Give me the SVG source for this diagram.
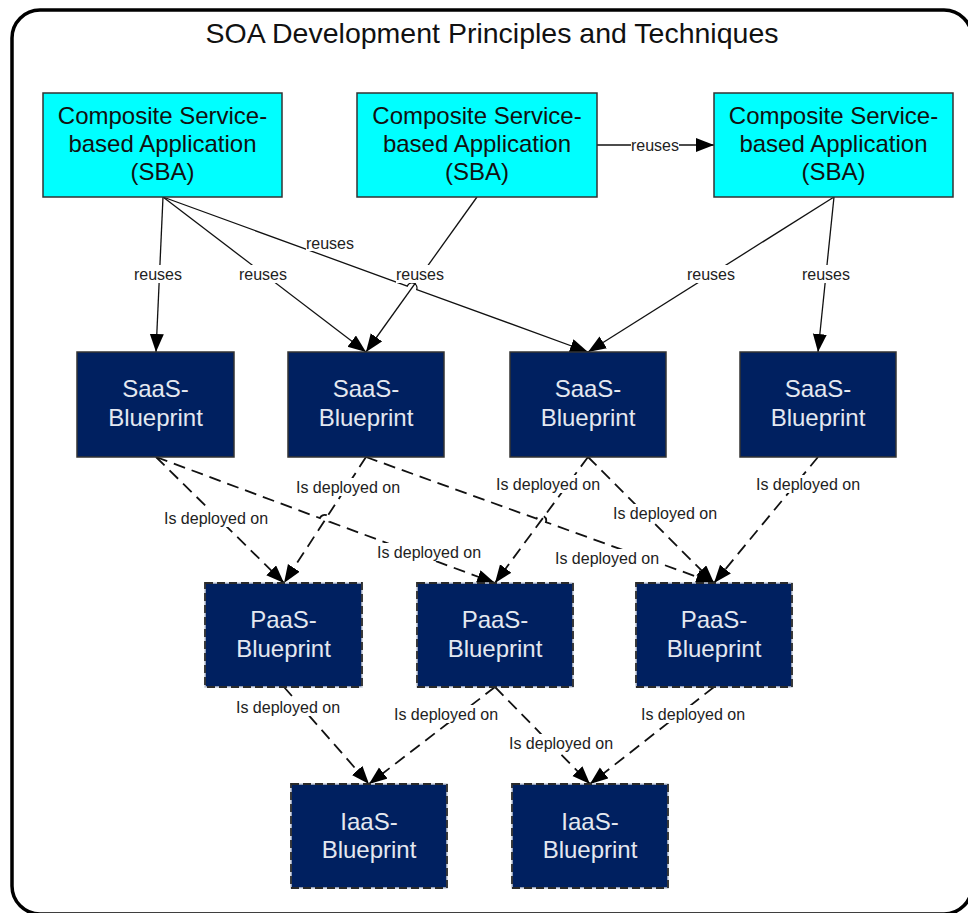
<svg xmlns="http://www.w3.org/2000/svg" width="968" height="913" viewBox="0 0 968 913">
  <style>
    .title { font-family: "Liberation Sans", Arial, sans-serif; font-size: 28.5px; fill: #111; text-anchor: middle; }
    .sba rect { fill: #00ffff; stroke: #333; stroke-width: 1.5; }
    .sba text { font-family: "Liberation Sans", Arial, sans-serif; font-size: 24px; fill: #111; text-anchor: middle; }
    .saas rect { fill: #002060; stroke: #333; stroke-width: 1.5; }
    .blue text { font-family: "Liberation Sans", Arial, sans-serif; font-size: 24px; fill: #e4e8f0; text-anchor: middle; }
    .dash rect.base { fill: #002060; stroke: #c9ceda; stroke-width: 1.5; }
    .dash rect.edge { fill: none; stroke: #2a2a2a; stroke-width: 1.8; stroke-dasharray: 8 4; }
    .reuse { fill: none; stroke: #111; stroke-width: 1.3; marker-end: url(#arrow); }
    .deploy { fill: none; stroke: #111; stroke-width: 1.8; stroke-dasharray: 12 7; marker-end: url(#arrow); }
    .lbl rect { fill: #fff; }
    .lbl text { font-family: "Liberation Sans", Arial, sans-serif; font-size: 16px; fill: #222; text-anchor: middle; }
  </style>
  <defs>
    <marker id="arrow" markerUnits="userSpaceOnUse" markerWidth="19" markerHeight="15" refX="18" refY="7" orient="auto">
      <path d="M0,0 L18,7 L0,14 Z" fill="#000"/>
    </marker>
  </defs>

  <rect x="0" y="0" width="968" height="913" fill="#fff"/>
  <!-- outer frame -->
  <rect x="12" y="10" width="960" height="904" rx="28" ry="28" fill="#fff" stroke="#000" stroke-width="3.5"/>
  <text class="title" x="492" y="43">SOA Development Principles and Techniques</text>

  <!-- connectors -->
  <g id="connectors">
    <!-- reuses -->
    <path class="reuse" d="M163,197 L156,352"/>
    <path class="reuse" d="M163,197 L366,352"/>
    <path class="reuse" d="M163,197 L407.3,286.1 A5,5 0 0 1 416.7,289.5 L588,352"/>
    <path class="reuse" d="M477,197 L366,352"/>
    <path class="reuse" d="M597,145 L714,145"/>
    <path class="reuse" d="M834,197 L588,352"/>
    <path class="reuse" d="M834,197 L818,352"/>
    <!-- is deployed on -->
    <path class="deploy" d="M156,457 L284,583"/>
    <path class="deploy" d="M156,457 L319.9,518.1 A5,5 0 0 1 329.3,521.7 L495,583"/>
    <path class="deploy" d="M366,457 L284,583"/>
    <path class="deploy" d="M366,457 L536.5,518.7 A5,5 0 0 1 545.9,522.1 L714,583"/>
    <path class="deploy" d="M588,457 L495,583"/>
    <path class="deploy" d="M588,457 L714,583"/>
    <path class="deploy" d="M818,457 L714,583"/>
    <path class="deploy" d="M284,687 L369,784"/>
    <path class="deploy" d="M495,687 L369,784"/>
    <path class="deploy" d="M495,687 L590,784"/>
    <path class="deploy" d="M714,687 L590,784"/>

    <!-- connector labels -->
    <g class="lbl">
      <rect x="134" y="265" width="48" height="18"/><text x="158" y="279.5">reuses</text>
      <rect x="239" y="265" width="48" height="18"/><text x="263" y="279.5">reuses</text>
      <rect x="306" y="234" width="48" height="17"/><text x="330" y="248.5">reuses</text>
      <rect x="396" y="265" width="48" height="18"/><text x="420" y="279.5">reuses</text>
      <rect x="631" y="137" width="48" height="16"/><text x="655" y="150.5">reuses</text>
      <rect x="687" y="265" width="48" height="18"/><text x="711" y="279.5">reuses</text>
      <rect x="802" y="265" width="48" height="18"/><text x="826" y="279.5">reuses</text>

      <rect x="163" y="509" width="106" height="18"/><text x="216" y="523.5">Is deployed on</text>
      <rect x="376" y="543" width="106" height="18"/><text x="429" y="557.5">Is deployed on</text>
      <rect x="295" y="478" width="106" height="18"/><text x="348" y="492.5">Is deployed on</text>
      <rect x="554" y="549" width="106" height="18"/><text x="607" y="563.5">Is deployed on</text>
      <rect x="495" y="475" width="106" height="18"/><text x="548" y="489.5">Is deployed on</text>
      <rect x="612" y="504" width="106" height="18"/><text x="665" y="518.5">Is deployed on</text>
      <rect x="755" y="475" width="106" height="18"/><text x="808" y="489.5">Is deployed on</text>
      <rect x="235" y="698" width="106" height="18"/><text x="288" y="712.5">Is deployed on</text>
      <rect x="393" y="705" width="106" height="18"/><text x="446" y="719.5">Is deployed on</text>
      <rect x="508" y="734" width="106" height="18"/><text x="561" y="748.5">Is deployed on</text>
      <rect x="640" y="705" width="106" height="18"/><text x="693" y="719.5">Is deployed on</text>
    </g>
  </g>

  <!-- composite service-based applications -->
  <g id="sba-1" class="sba">
    <rect x="43" y="93" width="239" height="104"/>
    <text x="162.5" y="124">Composite Service-</text>
    <text x="162.5" y="152">based Application</text>
    <text x="162.5" y="180">(SBA)</text>
  </g>
  <g id="sba-2" class="sba">
    <rect x="357" y="93" width="240" height="104"/>
    <text x="477" y="124">Composite Service-</text>
    <text x="477" y="152">based Application</text>
    <text x="477" y="180">(SBA)</text>
  </g>
  <g id="sba-3" class="sba">
    <rect x="714" y="93" width="239" height="104"/>
    <text x="833.5" y="124">Composite Service-</text>
    <text x="833.5" y="152">based Application</text>
    <text x="833.5" y="180">(SBA)</text>
  </g>

  <!-- SaaS blueprints -->
  <g id="saas-1" class="saas blue">
    <rect x="77" y="352" width="157" height="105"/>
    <text x="155.5" y="397">SaaS-</text>
    <text x="155.5" y="426">Blueprint</text>
  </g>
  <g id="saas-2" class="saas blue">
    <rect x="288" y="352" width="156" height="105"/>
    <text x="366" y="397">SaaS-</text>
    <text x="366" y="426">Blueprint</text>
  </g>
  <g id="saas-3" class="saas blue">
    <rect x="510" y="352" width="156" height="105"/>
    <text x="588" y="397">SaaS-</text>
    <text x="588" y="426">Blueprint</text>
  </g>
  <g id="saas-4" class="saas blue">
    <rect x="740" y="352" width="156" height="105"/>
    <text x="818" y="397">SaaS-</text>
    <text x="818" y="426">Blueprint</text>
  </g>

  <!-- PaaS blueprints -->
  <g id="paas-1" class="dash blue">
    <rect class="base" x="205" y="583" width="157" height="104"/>
    <rect class="edge" x="205" y="583" width="157" height="104"/>
    <text x="283.5" y="628">PaaS-</text>
    <text x="283.5" y="657">Blueprint</text>
  </g>
  <g id="paas-2" class="dash blue">
    <rect class="base" x="417" y="583" width="156" height="104"/>
    <rect class="edge" x="417" y="583" width="156" height="104"/>
    <text x="495" y="628">PaaS-</text>
    <text x="495" y="657">Blueprint</text>
  </g>
  <g id="paas-3" class="dash blue">
    <rect class="base" x="636" y="583" width="156" height="104"/>
    <rect class="edge" x="636" y="583" width="156" height="104"/>
    <text x="714" y="628">PaaS-</text>
    <text x="714" y="657">Blueprint</text>
  </g>

  <!-- IaaS blueprints -->
  <g id="iaas-1" class="dash blue">
    <rect class="base" x="291" y="784" width="156" height="104"/>
    <rect class="edge" x="291" y="784" width="156" height="104"/>
    <text x="369" y="830">IaaS-</text>
    <text x="369" y="858">Blueprint</text>
  </g>
  <g id="iaas-2" class="dash blue">
    <rect class="base" x="512" y="784" width="156" height="104"/>
    <rect class="edge" x="512" y="784" width="156" height="104"/>
    <text x="590" y="830">IaaS-</text>
    <text x="590" y="858">Blueprint</text>
  </g>
</svg>
